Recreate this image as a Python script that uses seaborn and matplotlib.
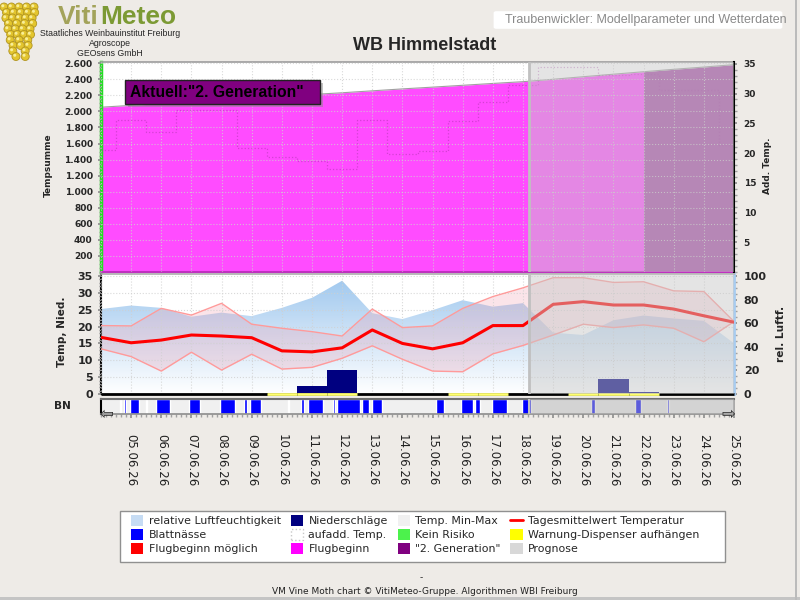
import numpy as np
import pandas as pd
import matplotlib
matplotlib.use("Agg")
import matplotlib.pyplot as plt
import seaborn as sns
from matplotlib.ticker import MultipleLocator, FuncFormatter, FixedLocator
from matplotlib.patches import Patch, Rectangle, FancyBboxPatch, Circle
from matplotlib.lines import Line2D
from matplotlib.colors import LinearSegmentedColormap

# ---------------- data ----------------
dates = ["04.06.26", "05.06.26", "06.06.26", "07.06.26", "08.06.26", "09.06.26", "10.06.26",
         "11.06.26", "12.06.26", "13.06.26", "14.06.26", "15.06.26", "16.06.26", "17.06.26",
         "18.06.26", "19.06.26", "20.06.26", "21.06.26", "22.06.26", "23.06.26", "24.06.26",
         "25.06.26"]
tempsumme = [2052, 2075, 2097, 2120, 2143, 2166, 2188, 2210, 2232, 2256, 2280, 2302, 2325,
             2348, 2370, 2400, 2432, 2463, 2494, 2524, 2552, 2582]
aufadd_temp = [20.5, 25.6, 23.6, 27.3, 27.3, 20.9, 19.4, 18.7, 17.3, 25.5, 19.8, 20.4, 25.4,
               28.6, 31.5, 34.5, 34.5, 33.1, 33.3, 30.6, 30.6, 21.4]
rel_luftf = [72, 75, 73, 65.5, 69, 66, 73, 81.5, 96, 68.5, 63.5, 71, 79.5, 74, 77,
             52, 50, 62.5, 66.5, 64, 62, 43]
t_mean = [16.8, 15.2, 16.0, 17.5, 17.2, 16.7, 12.8, 12.5, 13.7, 19.0, 15.0, 13.4, 15.2,
          20.3, 20.3, 26.6, 27.4, 26.4, 26.4, 25.2, 23.2, 21.3]
t_max = [20.3, 20.2, 25.4, 23.4, 26.9, 20.7, 19.5, 18.5, 17.2, 25.2, 19.7, 20.2, 25.4,
         28.9, 31.5, 34.5, 34.5, 33.1, 33.3, 30.6, 30.4, 21.5]
t_min = [13.4, 11.1, 6.8, 12.4, 7.1, 11.8, 7.4, 7.9, 10.6, 14.3, 10.3, 6.8, 6.6,
         11.9, 14.4, 17.5, 20.7, 19.7, 20.5, 19.5, 15.5, 21.5]
nied_dates = ["10.06.26", "11.06.26", "12.06.26", "20.06.26", "21.06.26", "22.06.26"]
nied_mm = [0.4, 2.5, 7.1, 0.4, 4.5, 0.7]
warn_dates = ["10.06.26", "11.06.26", "12.06.26", "16.06.26", "17.06.26",
              "20.06.26", "21.06.26", "22.06.26"]
# Blattnaesse periods, hours after 04.06.26 00:00
bn_start_h = [15, 18, 23, 36, 44, 70, 95, 114, 119, 149, 159, 165, 185, 188, 208, 216,
              267, 287, 298, 311, 335, 390, 425, 451]
bn_end_h = [16, 20, 30, 37, 55, 79, 107, 116, 127, 150, 162, 177, 186, 206, 213, 224,
            273, 296, 302, 323, 342, 393, 430, 452]
prognose_ab_h = 341
gen2_ab = "22.06.26"

# ---------------- setup ----------------
sns.set_theme(style="white")
plt.rcParams["font.family"] = ["DejaVu Sans"]
BG = "#EEEBE7"
fig = plt.figure(figsize=(8, 6), dpi=100, facecolor=BG)


def fx(px):
    return px / 800.0


def fy(py):
    return 1 - py / 600.0


x = np.arange(len(dates))
pos = {d: i for i, d in enumerate(dates)}
prog = prognose_ab_h / 24.0
XMAX = len(dates) - 1
df = pd.DataFrame({"tag": x, "tsum": tempsumme, "aufadd": aufadd_temp, "rlf": rel_luftf,
                   "tmean": t_mean, "tmax": t_max, "tmin": t_min})

L, R = 101, 734
axT = fig.add_axes([fx(L), fy(272), (R - L) / 800, 210 / 600])
axB = fig.add_axes([fx(L), fy(394), (R - L) / 800, 120 / 600])
axN = fig.add_axes([fx(L), fy(414), (R - L) / 800, 15 / 600])

grid_kw = dict(color="#D0D0D0", linestyle=":", linewidth=0.8, alpha=0.8)

# ---------------- top panel ----------------
axT.set_facecolor("white")
axT.set_xlim(0, XMAX)
axT.set_ylim(0, 2615)
gi = pos[gen2_ab]
axT.fill_between(x[:gi + 1], 0, tempsumme[:gi + 1], color="#FF00FF", alpha=0.7, lw=0, zorder=1)
axT.fill_between(x[gi:], 0, tempsumme[gi:], color="#800080", alpha=0.7, lw=0, zorder=1)
axT.plot(x, tempsumme, color="#A0A0A0", lw=0.8, zorder=1.2)
axT.set_axisbelow(False)
axT.xaxis.set_major_locator(MultipleLocator(1))
axT.yaxis.set_major_locator(FixedLocator(np.arange(200, 2601, 200)))
axT.yaxis.set_minor_locator(MultipleLocator(50))
axT.yaxis.set_major_formatter(FuncFormatter(lambda v, p: f"{int(v):,}".replace(",", ".")))
axT.grid(True, which="major", **grid_kw)
axT.tick_params(axis="x", length=0, labelbottom=False)
axT.tick_params(axis="y", which="major", length=2.5, pad=3.5, color="#909090",
                labelsize=6.5, left=True)
axT.tick_params(axis="y", which="minor", length=1.8, color="#A0A0A0", left=True)
for lab in axT.get_yticklabels():
    lab.set_fontweight("bold")
axT.spines["left"].set_color("#22DD22")
axT.spines["left"].set_linewidth(2.5)
axT.spines["top"].set_color("#A0A0A0")
axT.spines["bottom"].set_color("#C030C0")
axT.spines["bottom"].set_linewidth(1.5)
axT.spines["right"].set_visible(False)

axT2 = axT.twinx()
axT2.set_ylim(0, 35.3)
sns.lineplot(data=df, x="tag", y="aufadd", ax=axT2, drawstyle="steps-mid", color="#A030A0",
             lw=0.9, linestyle=":", alpha=0.45)
axT2.set_xlim(0, XMAX)
axT2.set_ylabel("")
axT2.set_xlabel("")
axT2.yaxis.set_major_locator(FixedLocator(np.arange(5, 36, 5)))
axT2.yaxis.set_minor_locator(MultipleLocator(1))
axT2.tick_params(axis="y", which="major", length=2.5, pad=4.5, color="#909090",
                 labelsize=6.5, right=True)
axT2.tick_params(axis="y", which="minor", length=1.8, color="#A0A0A0", right=True)
for lab in axT2.get_yticklabels():
    lab.set_fontweight("bold")
for s in ["left", "top", "bottom"]:
    axT2.spines[s].set_visible(False)
axT2.spines["right"].set_color("black")
axT2.spines["right"].set_linewidth(1.5)
axT2.axvspan(prog, XMAX, color="#C8C8C8", alpha=0.48, lw=0, zorder=5)
axT2.axvline(prog, color="#C0C0C0", lw=2, zorder=6)

# ---------------- bottom panel ----------------
axB2 = axB.twinx()
axB.set_zorder(axB2.get_zorder() + 1)
axB.patch.set_visible(False)
axB2.patch.set_visible(True)
axB2.patch.set_facecolor("white")
axB2.set_ylim(0, 101.7)
axB2.set_xlim(0, XMAX)
cmap = LinearSegmentedColormap.from_list("hum", ["#FFFFFF", "#9CC6EE"])
grad = np.linspace(0, 1, 256).reshape(-1, 1)
im = axB2.imshow(grad, extent=(0, XMAX, 0, 101.7), origin="lower", aspect="auto",
                 cmap=cmap, zorder=1)
poly = axB2.fill_between(x, 0, rel_luftf, color="none", lw=0)
im.set_clip_path(poly.get_paths()[0], transform=axB2.transData)
axB2.yaxis.set_major_locator(FixedLocator(np.arange(0, 101, 20)))
axB2.yaxis.set_minor_locator(MultipleLocator(5))
axB2.tick_params(axis="y", which="major", length=2.5, pad=4.5, color="#909090",
                 labelsize=8, right=True)
axB2.tick_params(axis="y", which="minor", length=1.8, color="#A0A0A0", right=True)
for lab in axB2.get_yticklabels():
    lab.set_fontweight("bold")
for s in ["left", "top", "bottom"]:
    axB2.spines[s].set_visible(False)
axB2.spines["right"].set_color("#A8CCF0")
axB2.spines["right"].set_linewidth(2)

axB.set_xlim(0, XMAX)
axB.set_ylim(0, 35.6)
axB.fill_between(x, t_min, t_max, color="#F096AA", alpha=0.25, lw=0, zorder=2)
sns.lineplot(data=df, x="tag", y="tmax", ax=axB, color="#FF9A9A", lw=1, zorder=3)
sns.lineplot(data=df, x="tag", y="tmin", ax=axB, color="#FF9A9A", lw=1, zorder=3)
sns.lineplot(data=df, x="tag", y="tmean", ax=axB, color="#FF0000", lw=2.2, zorder=4)
axB.bar([pos[d] for d in nied_dates], nied_mm, width=1.0, color="#000080", lw=0, zorder=3)
axB.hlines(0, 0, XMAX, color="black", lw=2, zorder=5, clip_on=False)
for d in warn_dates:
    axB.hlines(0, pos[d] - 0.5, pos[d] + 0.5, color="#FFFF70", lw=2, zorder=5.5, clip_on=False)
axB.set_xlabel("")
axB.set_ylabel("")
axB.set_axisbelow(False)
axB.xaxis.set_major_locator(MultipleLocator(1))
axB.yaxis.set_major_locator(FixedLocator(np.arange(0, 36, 5)))
axB.yaxis.set_minor_locator(MultipleLocator(1))
axB.grid(True, which="major", **grid_kw)
axB.tick_params(axis="x", length=0, labelbottom=False)
axB.tick_params(axis="y", which="major", length=2.5, pad=3.5, color="#909090",
                labelsize=8, left=True)
axB.tick_params(axis="y", which="minor", length=1.8, color="#909090", left=True)
for lab in axB.get_yticklabels():
    lab.set_fontweight("bold")
axB.spines["left"].set_color("black")
axB.spines["left"].set_linewidth(1.5)
axB.spines["top"].set_color("#B0B0B0")
axB.spines["bottom"].set_visible(False)
axB.spines["right"].set_visible(False)
axB.axvspan(prog, XMAX, color="#C8C8C8", alpha=0.48, lw=0, zorder=8)
axB.axvline(prog, color="#C0C0C0", lw=2, zorder=9)

# ---------------- BN strip ----------------
axN.set_facecolor("#F0F0F0")
axN.set_xlim(0, XMAX)
axN.set_ylim(0, 1)
bars = [(s / 24.0, (e - s) / 24.0) for s, e in zip(bn_start_h, bn_end_h)]
axN.broken_barh(bars, (0, 1), facecolors="#0000FF", zorder=2)
axN.axvspan(prog, XMAX, color="#B8B8B8", alpha=0.5, lw=0, zorder=3)
axN.axvline(prog, color="#C0C0C0", lw=1.5, zorder=4)
axN.set_yticks([])
axN.xaxis.set_major_locator(FixedLocator(x[1:]))
axN.xaxis.set_minor_locator(MultipleLocator(1 / 6))
axN.xaxis.set_major_formatter(FuncFormatter(lambda v, p: dates[int(round(v))]))
axN.tick_params(axis="x", which="major", length=3, color="#909090", bottom=True,
                labelsize=8.5, pad=11.5, labelrotation=-90, labelcolor="#222222")
axN.tick_params(axis="x", which="minor", length=2, color="#A0A0A0", bottom=True)
for lab in axN.get_xticklabels():
    lab.set_ha("center")
    lab.set_va("top")
axN.spines["top"].set_color("#707070")
axN.spines["top"].set_linewidth(1.5)
axN.spines["left"].set_color("black")
axN.spines["left"].set_linewidth(1.5)
axN.spines["bottom"].set_color("#909090")
axN.spines["right"].set_color("#A0A0A0")
fig.text(fx(100), fy(414), "\u21e6", fontsize=12, ha="left", va="center", color="#333333")
fig.text(fx(735), fy(414), "\u21e8", fontsize=12, ha="right", va="center", color="#333333")

# ---------------- axis labels ----------------
fig.text(fx(48), fy(165), "Tempsumme", rotation=90, ha="center", va="center",
         fontsize=6.5, fontweight="bold")
fig.text(fx(767), fy(166), "Add. Temp.", rotation=90, ha="center", va="center",
         fontsize=6.5, fontweight="bold")
fig.text(fx(62), fy(332), "Temp, Nied.", rotation=90, ha="center", va="center",
         fontsize=7.6, fontweight="bold")
fig.text(fx(781), fy(334), "rel. Luftf.", rotation=90, ha="center", va="center",
         fontsize=7.6, fontweight="bold")
fig.text(fx(62), fy(406), "BN", ha="center", va="center", fontsize=7.6, fontweight="bold")

# ---------------- annotation box ----------------
fig.add_artist(Rectangle((fx(128), fy(107)), 195 / 800, 24 / 600, transform=fig.transFigure,
                         fc="#888888", ec="none", alpha=0.5, zorder=6))
fig.add_artist(Rectangle((fx(125), fy(104)), 195 / 800, 24 / 600, transform=fig.transFigure,
                         fc="#800080", ec="#222222", lw=1, zorder=7))
fig.text(fx(130), fy(92.5), 'Aktuell:"2. Generation"', ha="left", va="center",
         fontsize=11.3, fontweight="bold", family=["Liberation Sans", "DejaVu Sans"],
         color="black", zorder=8)

# ---------------- header ----------------
fig.text(fx(425), fy(45), "WB Himmelstadt", ha="center", va="center", fontsize=13,
         fontweight="bold", family=["Liberation Sans", "DejaVu Sans"])
fig.add_artist(FancyBboxPatch((fx(496), fy(27)), 284 / 800, 14 / 600,
                              boxstyle="round,pad=0.003", transform=fig.transFigure,
                              fc="white", ec="none", zorder=1))
fig.text(fx(505), fy(19.5), "Traubenwickler: Modellparameter und Wetterdaten", ha="left",
         va="center", fontsize=9, color="#8A8A8A", family=["Liberation Sans", "DejaVu Sans"],
         zorder=2)

# logo
axLogo = fig.add_axes([0, fy(62), 42 / 800, 62 / 600])
axLogo.set_xlim(0, 42)
axLogo.set_ylim(62, 0)
axLogo.axis("off")
for i, yy in enumerate(np.arange(7, 60, 5.5)):
    half = 14 * (1 - (yy - 7) / 58) ** 0.7 + 1
    n = max(1, int(2 * half / 6.5) + 1)
    xs = np.linspace(19 - half, 19 + half, n) + (i % 2) * 1.6
    for xx in xs:
        axLogo.add_patch(Circle((xx, yy), 4.0, fc="#E3C52E", ec="#B09422", lw=0.6))
        axLogo.add_patch(Circle((xx - 1.2, yy - 1.2), 1.5, fc="#F8EE9A", ec="none"))
fig.text(fx(99), fy(24.5), "Viti", ha="right", va="baseline", fontsize=19, fontweight="bold",
         color="#A3A35A", family=["Liberation Sans", "DejaVu Sans"])
fig.text(fx(100), fy(24.5), "Meteo", ha="left", va="baseline", fontsize=19, fontweight="bold",
         color="#7C9A34", family=["Liberation Sans", "DejaVu Sans"])
for ty, tt in [(33.5, "Staatliches Weinbauinstitut Freiburg"), (43.5, "Agroscope"),
               (53, "GEOsens GmbH")]:
    fig.text(fx(110), fy(ty), tt, ha="center", va="center", fontsize=6.3,
             family=["Liberation Sans", "DejaVu Sans"])

# ---------------- legend ----------------
fig.add_artist(Rectangle((fx(120), fy(562)), 605 / 800, 51 / 600, transform=fig.transFigure,
                         fc="white", ec="#909090", lw=1, zorder=1))
handles = [
    Patch(fc="#C6DCF4", ec="none", label="relative Luftfeuchtigkeit"),
    Patch(fc="#0000FF", ec="none", label="Blattnässe"),
    Patch(fc="#FF0000", ec="none", label="Flugbeginn möglich"),
    Patch(fc="#000080", ec="none", label="Niederschläge"),
    Patch(fc="white", ec="#C8C8C8", ls=":", label="aufadd. Temp."),
    Patch(fc="#FF00FF", ec="none", label="Flugbeginn"),
    Patch(fc="#F0F0F0", ec="none", label="Temp. Min-Max"),
    Patch(fc="#4CF24C", ec="none", label="Kein Risiko"),
    Patch(fc="#800080", ec="none", label='"2. Generation"'),
    Line2D([], [], color="#FF0000", lw=2, label="Tagesmittelwert Temperatur"),
    Patch(fc="#FFFF00", ec="none", label="Warnung-Dispenser aufhängen"),
    Patch(fc="#D8D8D8", ec="none", label="Prognose"),
]
fig.legend(handles=handles, ncol=4, loc="upper left", bbox_to_anchor=(fx(128), fy(512)),
           frameon=False, fontsize=7.9, handlelength=1.1, handleheight=1.15,
           handletextpad=0.5, columnspacing=0.9, labelspacing=0.25, borderpad=0.3,
           borderaxespad=0)

# ---------------- footer ----------------
fig.text(fx(421), fy(578), "-", ha="center", va="center", fontsize=6.5)
fig.text(fx(425), fy(591), "VM Vine Moth chart \u00a9 VitiMeteo-Gruppe. Algorithmen WBI Freiburg",
         ha="center", va="center", fontsize=6.5, color="#222222")
fig.add_artist(Rectangle((0, 0), 1, 3 / 600, transform=fig.transFigure, fc="#C4C4C4",
                         ec="none", zorder=1))
fig.add_artist(Rectangle((fx(795), 0), 2 / 800, 1, transform=fig.transFigure, fc="#BBBBBB",
                         ec="none", zorder=1))

fig.savefig("out.png", dpi=100, facecolor=BG)
